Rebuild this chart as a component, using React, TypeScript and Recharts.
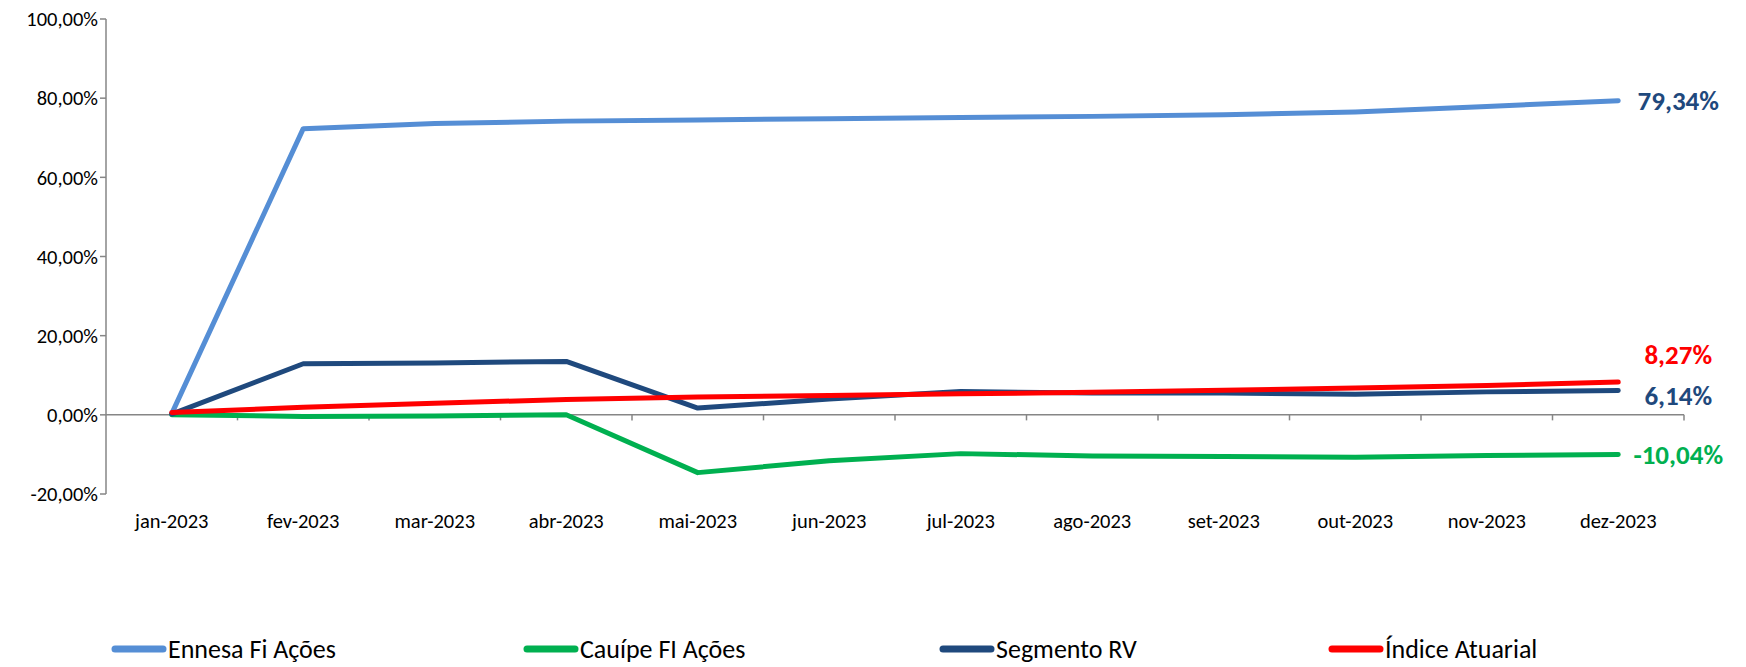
import { LineChart, Line, XAxis, YAxis, ReferenceLine, Legend, LabelList } from "recharts";

const months = [
    "jan-2023", "fev-2023", "mar-2023", "abr-2023", "mai-2023", "jun-2023",
    "jul-2023", "ago-2023", "set-2023", "out-2023", "nov-2023", "dez-2023",
];

const ennesa = [0.3, 72.3, 73.6, 74.2, 74.5, 74.8, 75.1, 75.4, 75.8, 76.5, 77.9, 79.34];
const cauipe = [0, -0.4, -0.3, 0, -14.6, -11.6, -9.8, -10.4, -10.5, -10.7, -10.3, -10.04];
const segmentoRV = [0.2, 12.9, 13.1, 13.5, 1.7, 4.0, 5.9, 5.5, 5.5, 5.2, 5.8, 6.14];
const indiceAtuarial = [0.6, 1.9, 2.9, 3.9, 4.5, 4.9, 5.3, 5.7, 6.2, 6.8, 7.4, 8.27];

const yTicks = [-20, 0, 20, 40, 60, 80, 100];

const FONT = "Carlito, 'Liberation Sans Narrow', 'DejaVu Sans Condensed', 'Open Sans', sans-serif";
const AXIS = "#868686";

const series = [
    { key: "ennesa", name: "Ennesa Fi Ações", color: "#558ED5", labelColor: "#1F497D", dy: 0, legendX: 111 },
    { key: "cauipe", name: "Cauípe FI Ações", color: "#00B050", labelColor: "#00B050", dy: 0, legendX: 523 },
    { key: "segmentoRV", name: "Segmento RV", color: "#1F497D", labelColor: "#1F497D", dy: 5, legendX: 939 },
    { key: "indice", name: "Índice Atuarial", color: "#FF0000", labelColor: "#FF0000", dy: -28, legendX: 1328 },
];

const data = months.map((m, i) => ({
    x: i,
    month: m,
    ennesa: ennesa[i],
    cauipe: cauipe[i],
    segmentoRV: segmentoRV[i],
    indice: indiceAtuarial[i],
}));

const fmt = (v: number) => v.toFixed(2).replace(".", ",") + "%";

// marks on the zero line between months
const boundaries = months.map((_, i) => i + 0.5);

function EndLabel(color: string, dy: number) {
    return (props: any) => {
        const { x, y, value, index } = props;
        if (index !== months.length - 1) return null;
        return (
            <text x={x + 60} y={y + dy} fill={color} textAnchor="middle" dominantBaseline="central"
                style={{ fontFamily: FONT, fontSize: 27, fontWeight: 700 }}>
                {fmt(value)}
            </text>
        );
    };
}

function LegendContent() {
    return (
        <div style={{ position: "relative", height: 30, width: 1746 }}>
            {series.map(s => (
                <div key={s.key} style={{ position: "absolute", left: s.legendX, top: 0, display: "flex", alignItems: "center", height: 30 }}>
                    <svg width={56} height={10}>
                        <line x1={4} y1={5} x2={52} y2={5} stroke={s.color} strokeWidth={7} strokeLinecap="round" />
                    </svg>
                    <span style={{ fontFamily: FONT, fontSize: 26, color: "#000", marginLeft: 1 }}>{s.name}</span>
                </div>
            ))}
        </div>
    );
}

export default function App() {
    return (
        <div style={{ width: 1746, height: 667, background: "#fff" }}>
            <style>{`body{margin:0}`}</style>
            <LineChart width={1746} height={667} data={data} margin={{ top: 19, right: 62, left: 6, bottom: 103 }}>
                <XAxis dataKey="x" type="number" domain={[-0.5, 11.5]} ticks={months.map((_, i) => i)}
                    tickFormatter={(i: number) => months[i]} axisLine={false} tickLine={false} height={40}
                    tick={{ fontFamily: FONT, fontSize: 20.5, fill: "#000" }} tickMargin={13} interval={0} />
                <YAxis domain={[-20, 100]} ticks={yTicks} tickFormatter={(v: number) => fmt(v)} width={100}
                    axisLine={{ stroke: AXIS, strokeWidth: 1.5 }} tickLine={{ stroke: AXIS, strokeWidth: 1.5 }} tickSize={6}
                    tick={{ fontFamily: FONT, fontSize: 20.5, fill: "#000" }} />
                <ReferenceLine y={0} stroke={AXIS} strokeWidth={1.5} />
                {boundaries.map(b => (
                    <ReferenceLine key={b} segment={[{ x: b, y: 0 }, { x: b, y: -1.4 }]} stroke={AXIS} strokeWidth={1.5} />
                ))}
                {series.map(s => (
                    <Line key={s.key} dataKey={s.key} name={s.name} stroke={s.color} strokeWidth={5} dot={false}
                        strokeLinecap="round" strokeLinejoin="round" isAnimationActive={false}>
                        <LabelList dataKey={s.key} content={EndLabel(s.labelColor, s.dy)} />
                    </Line>
                ))}
                <Legend verticalAlign="bottom" content={<LegendContent />}
                    wrapperStyle={{ bottom: 3, left: 0, width: 1746, height: 30 }} />
            </LineChart>
        </div>
    );
}
